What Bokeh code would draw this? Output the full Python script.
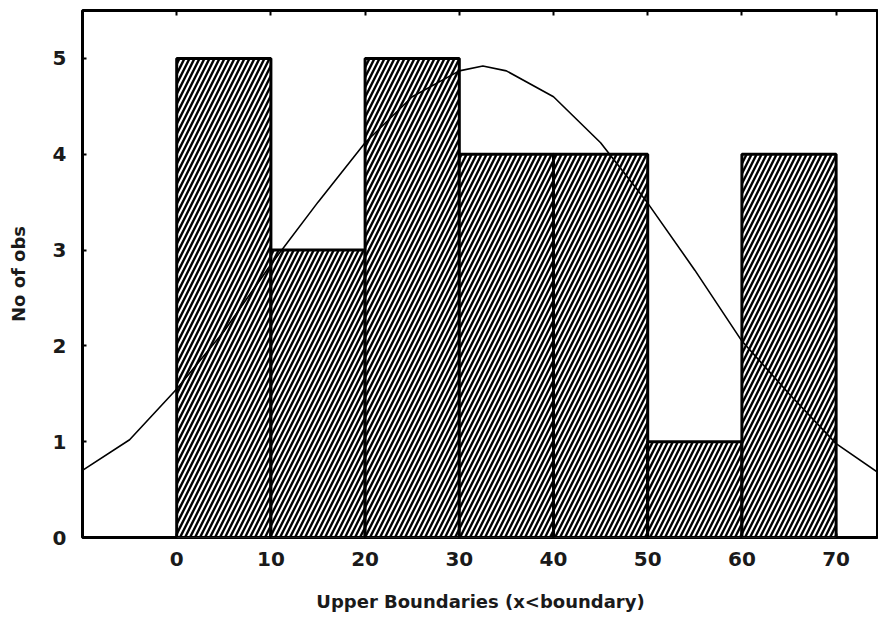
from bokeh.plotting import figure
from bokeh.models import Range1d, LinearAxis, FixedTicker
from bokeh.embed import file_html
from bokeh.resources import INLINE

# Histogram data
bin_lefts = [0, 10, 20, 30, 40, 50, 60]
bin_rights = [10, 20, 30, 40, 50, 60, 70]
counts = [5, 3, 5, 4, 4, 1, 4]

# Fitted normal curve
curve_x = [-10, -5, 0, 5, 10, 15, 20, 25, 30, 32.5, 35, 40, 45, 50, 55, 60, 65, 70, 75]
curve_y = [0.70, 1.02, 1.55, 2.15, 2.85, 3.50, 4.12, 4.60, 4.87, 4.92, 4.87, 4.60, 4.12,
           3.49, 2.79, 2.05, 1.50, 0.98, 0.64]

x_ticks = [0, 10, 20, 30, 40, 50, 60, 70]
y_ticks = [0, 1, 2, 3, 4, 5]

FONT = "DejaVu Sans"

p = figure(width=878, height=616, output_backend="svg", toolbar_location=None,
           x_range=Range1d(-10, 74.5), y_range=Range1d(0, 5.5))
p.min_border_left = 82
p.min_border_right = 0
p.min_border_top = 10
p.min_border_bottom = 79
p.xgrid.visible = False
p.ygrid.visible = False
p.outline_line_color = "black"
p.outline_line_width = 3
p.background_fill_color = "white"

p.quad(left=bin_lefts, right=bin_rights, bottom=0, top=counts,
       fill_color="white", line_color="black", line_width=3,
       hatch_pattern="/", hatch_color="black", hatch_scale=10, hatch_weight=2.4)

p.line(curve_x, curve_y, line_color="black", line_width=1.6)

for ax in (p.xaxis[0], p.yaxis[0]):
    ax.axis_line_color = None
    ax.major_tick_in = 4
    ax.major_tick_out = 0
    ax.minor_tick_line_color = None
    ax.major_tick_line_color = "black"
    ax.major_tick_line_width = 2
    ax.major_label_text_font = FONT
    ax.major_label_text_font_size = "20px"
    ax.major_label_text_font_style = "bold"
    ax.major_label_text_color = "#1a1a1a"
    ax.axis_label_text_font = FONT
    ax.axis_label_text_font_size = "18px"
    ax.axis_label_text_font_style = "bold"
    ax.axis_label_text_color = "#1a1a1a"

p.xaxis[0].ticker = FixedTicker(ticks=x_ticks)
p.yaxis[0].ticker = FixedTicker(ticks=y_ticks)
p.xaxis[0].axis_label = "Upper Boundaries (x<boundary)"
p.yaxis[0].axis_label = "No of obs"
p.xaxis[0].major_label_standoff = 14
p.yaxis[0].major_label_standoff = 16
p.xaxis[0].axis_label_standoff = 22
p.yaxis[0].axis_label_standoff = 21

top = LinearAxis(ticker=FixedTicker(ticks=x_ticks), axis_line_color=None,
                 major_tick_in=5, major_tick_out=0, major_tick_line_width=2,
                 minor_tick_line_color=None, major_label_text_font_size="1px",
                 major_label_text_color=None, major_label_standoff=0)
p.add_layout(top, "above")

open("out.html", "w").write(file_html(p, INLINE))
